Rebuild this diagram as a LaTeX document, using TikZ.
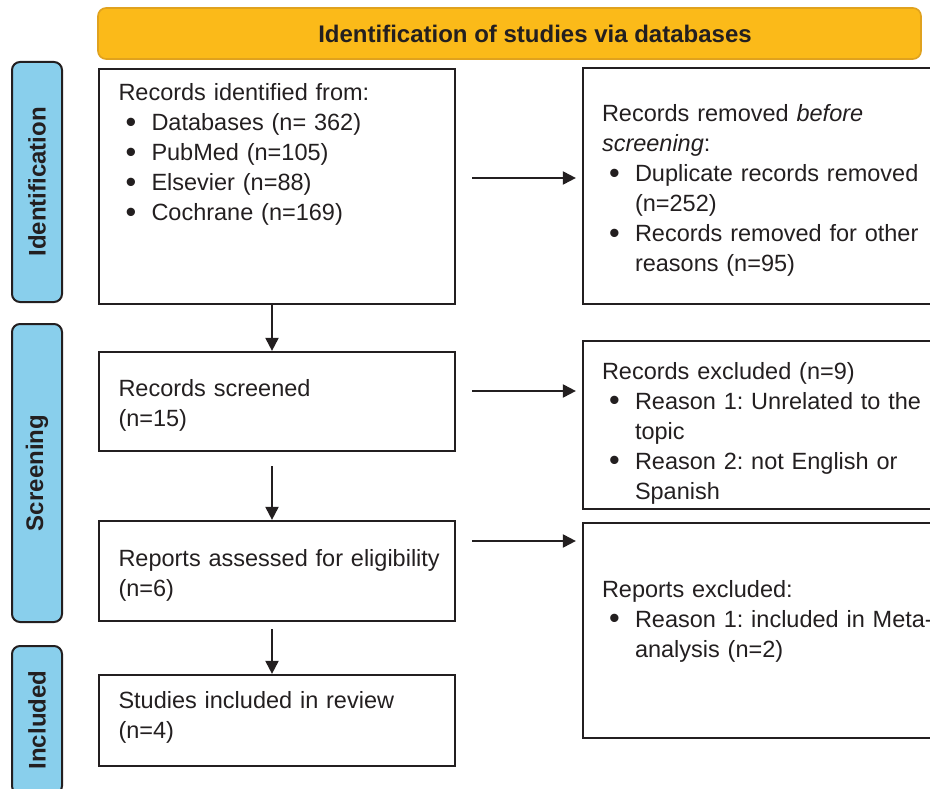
\documentclass[tikz,border=0pt]{standalone}
\usepackage{fontspec}
\setmainfont{Liberation Sans}
\usetikzlibrary{arrows.meta}

\definecolor{ink}{HTML}{231F20}
\definecolor{bannerfill}{RGB}{251,186,25}
\definecolor{bannerline}{RGB}{224,162,30}
\definecolor{phasefill}{RGB}{137,207,236}

\newcommand{\bul}{\makebox[33pt][l]{\hspace{7pt}\raisebox{-1.2pt}{\scalebox{1.3}{\textbullet}}}}
\newcommand{\hng}{\hspace*{33pt}}

\tikzset{
  every node/.style={font=\fontsize{23.5}{30}\selectfont\frenchspacing, text=ink},
  box/.style={draw=ink, line width=2.2pt, align=left, inner sep=0pt},
  leftbox/.style={box, minimum width=356pt, text width=317pt},
  rightbox/.style={box, minimum width=377pt, text width=339pt},
  phase/.style={draw=ink, line width=2pt, fill=phasefill, rounded corners=8pt,
    rotate=90, minimum height=50pt, inner sep=0pt,
    font=\fontsize{24}{30}\selectfont\bfseries},
}

\begin{document}
\begin{tikzpicture}[x=1pt, y=-1pt, >={Triangle[length=13pt, width=13pt]},
  line width=2pt, draw=ink]

\useasboundingbox (0,0) rectangle (930,789);
\clip (0,0) rectangle (930,789);

% banner
\node [draw=bannerline, line width=1.6pt, fill=bannerfill, rounded corners=8pt,
  minimum width=823pt, minimum height=51pt, inner sep=0pt,
  font=\fontsize{24}{30}\selectfont\bfseries] (banner) at (509.5,33.5)
  {\hspace*{51pt}Identification of studies via databases};

% phases on the left
\foreach \n/\l/\y/\len in {ident/Identification/182/240, screen/Screening/473/298, incl/Included/720/148}
  \node [phase, minimum width=\len pt] (phase-\n) at (37,\y) {\l};

% main column
\node [leftbox, text height=32pt, text depth=203pt] (identified) at (277,186.5)
  {Records identified from:\\
   \bul Databases (n= 362)\\
   \bul PubMed (n=105)\\
   \bul Elsevier (n=88)\\
   \bul Cochrane (n=169)};

\node [leftbox, text height=44pt, text depth=55pt] (screened) at (277,401.5)
  {Records screened\\(n=15)};

\node [leftbox, text height=45pt, text depth=55pt] (assessed) at (277,571)
  {\mbox{Reports assessed for eligibility}\\(n=6)};

\node [leftbox, text height=33pt, text depth=58pt] (included) at (277,720.5)
  {Studies included in review\\(n=4)};

% side column
\node [rightbox, text height=54pt, text depth=182pt] (removed) at (771.5,186)
  {Records removed \textit{before}\\
   \textit{screening}:\\
   \bul Duplicate records removed\\
   \hng (n=252)\\
   \bul Records removed for other\\
   \hng reasons (n=95)};

\node [rightbox, text height=38.5pt, text depth=129.5pt] (excluded) at (771.5,425)
  {Records excluded (n=9)\\
   \bul Reason 1: Unrelated to the\\
   \hng topic\\
   \bul Reason 2: not English or\\
   \hng Spanish};

\node [rightbox, text height=74pt, text depth=141pt] (rexcluded) at (771.5,630.5)
  {Reports excluded:\\
   \bul \mbox{Reason 1: included in Meta-}\\
   \hng analysis (n=2)};

% arrows down
\foreach \a/\b/\s in {identified/screened/0, screened/assessed/14, assessed/included/7}
  \draw [->, shorten <=\s pt] ([xshift=-5pt]\a.south) -- ([xshift=-5pt]\b.north);

% arrows across
\foreach \a/\b/\d in {identified/removed/8.5, screened/excluded/10.5, assessed/rexcluded/30}
  \draw [->, shorten <=16pt, shorten >=6pt] ([yshift=\d pt]\a.east) -- ([yshift=\d pt]\a.east -| \b.west);

\end{tikzpicture}
\end{document}
